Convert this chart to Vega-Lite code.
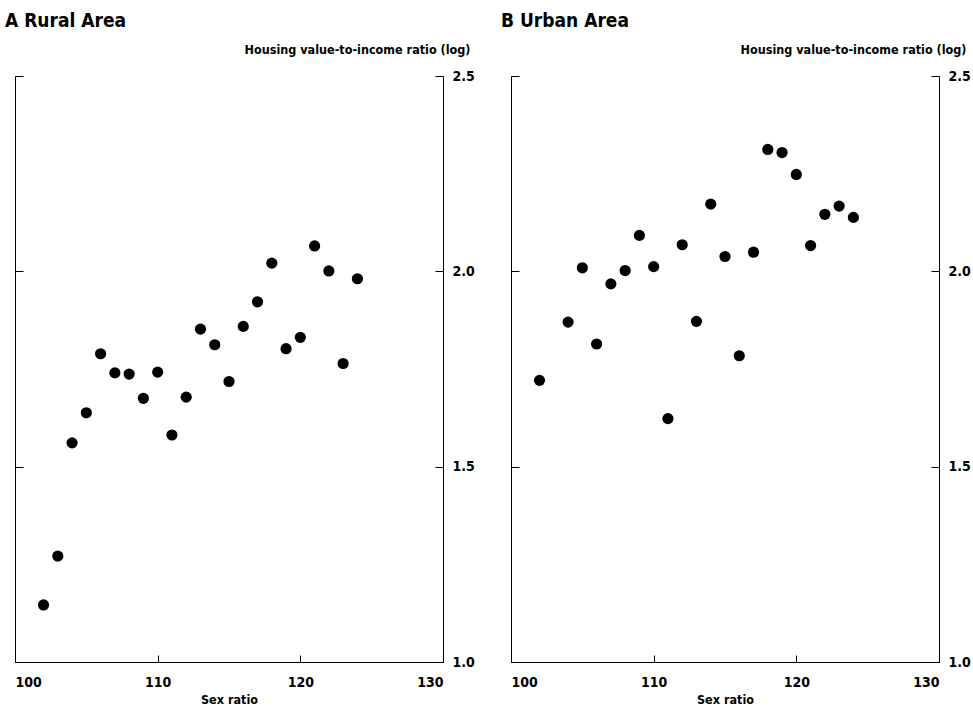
{
  "$schema": "https://vega.github.io/schema/vega-lite/v6.json",
  "background": "white",
  "padding": {"left": 5, "top": 12, "right": 2, "bottom": 2},
  "spacing": 68,
  "bounds": "flush",
  "datasets": {
    "rural": [
      {"sex_ratio": 102, "hvir": 1.146},
      {"sex_ratio": 103, "hvir": 1.271},
      {"sex_ratio": 104, "hvir": 1.561},
      {"sex_ratio": 105, "hvir": 1.638},
      {"sex_ratio": 106, "hvir": 1.789},
      {"sex_ratio": 107, "hvir": 1.740},
      {"sex_ratio": 108, "hvir": 1.737},
      {"sex_ratio": 109, "hvir": 1.675},
      {"sex_ratio": 110, "hvir": 1.742},
      {"sex_ratio": 111, "hvir": 1.581},
      {"sex_ratio": 112, "hvir": 1.678},
      {"sex_ratio": 113, "hvir": 1.852},
      {"sex_ratio": 114, "hvir": 1.812},
      {"sex_ratio": 115, "hvir": 1.718},
      {"sex_ratio": 116, "hvir": 1.859},
      {"sex_ratio": 117, "hvir": 1.922},
      {"sex_ratio": 118, "hvir": 2.021},
      {"sex_ratio": 119, "hvir": 1.802},
      {"sex_ratio": 120, "hvir": 1.831},
      {"sex_ratio": 121, "hvir": 2.065},
      {"sex_ratio": 122, "hvir": 2.001},
      {"sex_ratio": 123, "hvir": 1.764},
      {"sex_ratio": 124, "hvir": 1.981}
    ],
    "urban": [
      {"sex_ratio": 102, "hvir": 1.721},
      {"sex_ratio": 104, "hvir": 1.870},
      {"sex_ratio": 105, "hvir": 2.009},
      {"sex_ratio": 106, "hvir": 1.814},
      {"sex_ratio": 107, "hvir": 1.968},
      {"sex_ratio": 108, "hvir": 2.002},
      {"sex_ratio": 109, "hvir": 2.092},
      {"sex_ratio": 110, "hvir": 2.012},
      {"sex_ratio": 111, "hvir": 1.623},
      {"sex_ratio": 112, "hvir": 2.068},
      {"sex_ratio": 113, "hvir": 1.872},
      {"sex_ratio": 114, "hvir": 2.172},
      {"sex_ratio": 115, "hvir": 2.038},
      {"sex_ratio": 116, "hvir": 1.784},
      {"sex_ratio": 117, "hvir": 2.049},
      {"sex_ratio": 118, "hvir": 2.312},
      {"sex_ratio": 119, "hvir": 2.304},
      {"sex_ratio": 120, "hvir": 2.248},
      {"sex_ratio": 121, "hvir": 2.066},
      {"sex_ratio": 122, "hvir": 2.146},
      {"sex_ratio": 123, "hvir": 2.167},
      {"sex_ratio": 124, "hvir": 2.138}
    ]
  },
  "config": {
    "view": {"stroke": null},
    "font": "DejaVu Sans Condensed",
    "axis": {
      "grid": false,
      "domainColor": "black",
      "tickColor": "black",
      "domainWidth": 1,
      "tickWidth": 1,
      "labelColor": "black",
      "titleColor": "black",
      "labelFont": "DejaVu Sans Condensed",
      "titleFont": "DejaVu Sans Condensed",
      "labelFontSize": 14,
      "labelFontWeight": "bold",
      "titleFontSize": 12.5,
      "titleFontWeight": "bold"
    },
    "title": {
      "font": "DejaVu Sans Condensed",
      "fontSize": 19,
      "fontWeight": "bold",
      "color": "black",
      "anchor": "start",
      "dx": -9.5,
      "offset": 12
    }
  },
  "hconcat": [
    {
      "width": 428,
      "height": 586,
      "title": "A  Rural Area",
      "data": {"name": "rural"},
      "encoding": {
        "x": {
          "field": "sex_ratio", "type": "quantitative",
          "scale": {"domain": [100, 130], "nice": false, "zero": false},
          "axis": {"values": [100, 110, 120, 130], "format": "d", "title": "Sex ratio", "tickSize": -7, "labelPadding": 20, "titlePadding": 4}
        }
      },
      "layer": [
        {
          "mark": {"type": "circle", "size": 125, "color": "black", "opacity": 1},
          "encoding": {
            "y": {
              "field": "hvir", "type": "quantitative",
              "scale": {"domain": [1, 2.5], "nice": false, "zero": false},
              "axis": {"orient": "left", "values": [1, 1.5, 2, 2.5], "labels": false, "title": null, "tickSize": -8}
            }
          }
        },
        {
          "mark": {"type": "circle", "size": 125, "color": "black", "opacity": 0},
          "encoding": {
            "y": {
              "field": "hvir", "type": "quantitative",
              "scale": {"domain": [1, 2.5], "nice": false, "zero": false},
              "axis": {"orient": "right", "values": [1, 1.5, 2, 2.5], "format": ".1f", "tickSize": -8, "labelPadding": 17,
                "title": "Housing value-to-income ratio (log)", "titleAngle": 0, "titleX": 27, "titleY": -27, "titleAlign": "right", "titleBaseline": "middle"}
            }
          }
        }
      ],
      "resolve": {"axis": {"y": "independent"}}
    },
    {
      "width": 428,
      "height": 586,
      "title": "B  Urban Area",
      "data": {"name": "urban"},
      "encoding": {
        "x": {
          "field": "sex_ratio", "type": "quantitative",
          "scale": {"domain": [100, 130], "nice": false, "zero": false},
          "axis": {"values": [100, 110, 120, 130], "format": "d", "title": "Sex ratio", "tickSize": -7, "labelPadding": 20, "titlePadding": 4}
        }
      },
      "layer": [
        {
          "mark": {"type": "circle", "size": 125, "color": "black", "opacity": 1},
          "encoding": {
            "y": {
              "field": "hvir", "type": "quantitative",
              "scale": {"domain": [1, 2.5], "nice": false, "zero": false},
              "axis": {"orient": "left", "values": [1, 1.5, 2, 2.5], "labels": false, "title": null, "tickSize": -8}
            }
          }
        },
        {
          "mark": {"type": "circle", "size": 125, "color": "black", "opacity": 0},
          "encoding": {
            "y": {
              "field": "hvir", "type": "quantitative",
              "scale": {"domain": [1, 2.5], "nice": false, "zero": false},
              "axis": {"orient": "right", "values": [1, 1.5, 2, 2.5], "format": ".1f", "tickSize": -8, "labelPadding": 17,
                "title": "Housing value-to-income ratio (log)", "titleAngle": 0, "titleX": 27, "titleY": -27, "titleAlign": "right", "titleBaseline": "middle"}
            }
          }
        }
      ],
      "resolve": {"axis": {"y": "independent"}}
    }
  ]
}
